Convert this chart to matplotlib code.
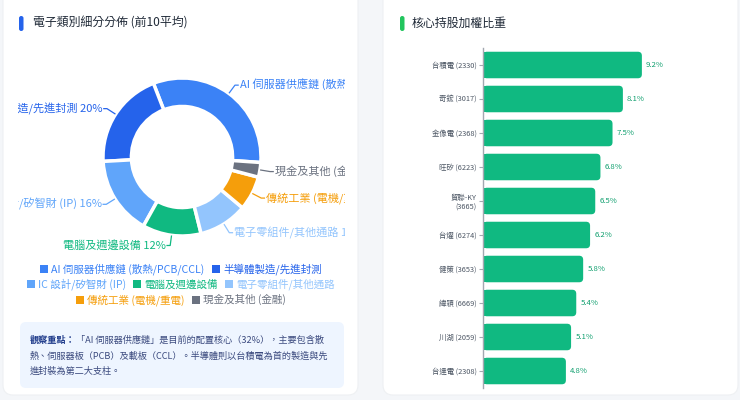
import matplotlib
matplotlib.use('Agg')
from matplotlib import pyplot as plt
from matplotlib.patches import FancyBboxPatch, Rectangle, Patch
import numpy as np

plt.rcParams['font.family'] = ['Noto Sans CJK TC', 'DejaVu Sans']

# --- data ---
sectors = ["AI 伺服器供應鏈 (散熱/PCB/CCL)", "半導體製造/先進封測", "IC 設計/矽智財 (IP)",
           "電腦及週邊設備", "電子零組件/其他通路", "傳統工業 (電機/重電)", "現金及其他 (金融)"]
sector_pct = [32, 20, 16, 12, 10, 7, 3]
sector_colors = ["#3b82f6", "#2563eb", "#60a5fa", "#10b981", "#93c5fd", "#f59e0b", "#6b7280"]

stocks = ["台積電 (2330)", "奇鋐 (3017)", "金像電 (2368)", "旺矽 (6223)", "貿聯-KY\n(3665)",
          "台燿 (6274)", "健策 (3653)", "緯穎 (6669)", "川湖 (2059)", "台達電 (2308)"]
stock_weights = [9.2, 8.1, 7.5, 6.8, 6.5, 6.2, 5.8, 5.4, 5.1, 4.8]

note_bold = "觀察重點："
note_lines = ["「AI 伺服器供應鏈」是目前的配置核心（32%），主要包含散",
              "熱、伺服器板（PCB）及載板（CCL）。半導體則以台積電為首的製造與先",
              "進封裝為第二大支柱。"]

W, H = 740, 400


def fig_box(x, y, w, h):
    # pixel box (top-left origin) -> figure fraction
    return [x / W, 1 - (y + h) / H, w / W, h / H]


def draw_chart():
    fig = plt.figure(figsize=(7.4, 4.0), dpi=100, facecolor="#f4f6f9")

    # background layer in pixel units
    bg = fig.add_axes([0, 0, 1, 1])
    bg.set_xlim(0, W)
    bg.set_ylim(H, 0)
    bg.axis("off")
    for x0, x1 in [(3, 358), (383, 738)]:
        bg.add_patch(FancyBboxPatch((x0, -20), x1 - x0, 415, boxstyle="round,pad=0,rounding_size=10",
                                    facecolor="white", edgecolor="#eef0f3", linewidth=0.8))
    bg.add_patch(FancyBboxPatch((19, 16), 4.5, 15, boxstyle="round,pad=0,rounding_size=2.2",
                                facecolor="#2563eb", edgecolor="none"))
    bg.add_patch(FancyBboxPatch((400, 16), 4.5, 15, boxstyle="round,pad=0,rounding_size=2.2",
                                facecolor="#22c55e", edgecolor="none"))
    bg.text(33, 23.5, "電子類別細分分佈 (前10平均)", fontsize=8.6, color="#1f2937",
            va="center", ha="left", weight="medium")
    bg.text(412, 23.5, "核心持股加權比重", fontsize=8.6, color="#1f2937",
            va="center", ha="left", weight="medium")

    # note box
    bg.add_patch(FancyBboxPatch((20, 322), 324, 66, boxstyle="round,pad=0,rounding_size=6",
                                facecolor="#eef5ff", edgecolor="none"))
    t = bg.text(30, 340, note_bold, fontsize=6.6, color="#1e3a8a", weight="bold", va="center")
    renderer = fig.canvas.get_renderer()
    bw = t.get_window_extent(renderer).width
    bg.text(30 + bw, 340, note_lines[0], fontsize=6.6, color="#3b4a7e", va="center")
    bg.text(30, 356, note_lines[1], fontsize=6.6, color="#3b4a7e", va="center")
    bg.text(30, 371.5, note_lines[2], fontsize=6.6, color="#3b4a7e", va="center")

    # donut
    R = 79
    half = 125
    ax = fig.add_axes(fig_box(182 - half, 157 - half, 2 * half, 2 * half))
    ax.set_facecolor("none")
    wedges, _ = ax.pie(sector_pct, colors=sector_colors, startangle=-4, counterclock=True,
                       radius=1, wedgeprops=dict(width=0.36, edgecolor="white", linewidth=2.5))
    lim = half / R
    ax.set_xlim(-lim, lim)
    ax.set_ylim(-lim, lim)
    ax.set_aspect("equal")
    ax.axis("off")

    clip = Rectangle((18, 0), 327, H, transform=bg.transData)
    for w, name, pct, col in zip(wedges, sectors, sector_pct, sector_colors):
        ang = np.deg2rad((w.theta1 + w.theta2) / 2)
        c, s = np.cos(ang), np.sin(ang)
        p0 = (1.01 * c, 1.01 * s)
        p1 = (1.13 * c, 1.13 * s)
        side = 1 if c >= 0 else -1
        p2 = (p1[0] + side * 0.04, p1[1])
        ax.plot([p0[0], p1[0], p2[0]], [p0[1], p1[1], p2[1]], color=col, lw=0.9,
                solid_joinstyle="round", clip_on=False)
        txt = ax.text(p2[0] + side * 0.02, p2[1], f"{name} {pct}%", color=col, fontsize=8,
                      ha="left" if side > 0 else "right", va="center", clip_on=True)
        txt.set_clip_path(clip)

    # legends (3 centred rows)
    rows = [[0, 1], [2, 3, 4], [5, 6]]
    row_y = [269, 284.5, 300]
    for idx, y in zip(rows, row_y):
        handles = [Patch(facecolor=sector_colors[i], edgecolor="none") for i in idx]
        leg = fig.legend(handles, [sectors[i] for i in idx], loc="center",
                         bbox_to_anchor=(181 / W, 1 - y / H), ncol=len(idx), frameon=False,
                         fontsize=7.6, handlelength=0.75, handleheight=0.75, handletextpad=0.3,
                         columnspacing=0.7, borderpad=0, borderaxespad=0)
        for text, i in zip(leg.get_texts(), idx):
            text.set_color(sector_colors[i])

    # horizontal bars with rounded right ends
    ax2 = fig.add_axes(fig_box(483, 48, 172.7, 340))
    ax2.set_facecolor("none")
    pos = np.arange(len(stocks))
    bars = ax2.barh(pos, stock_weights, height=0.78, color="#10b981")
    ax2.set_ylim(len(stocks) - 0.5, -0.5)
    ax2.set_xlim(0, 10)
    px_x = 10 / 172.7
    px_y = 10 / 340
    for b in bars:
        x, y, bw_, bh = b.get_x(), b.get_y(), b.get_width(), b.get_height()
        ax2.add_patch(FancyBboxPatch((x, y), bw_, bh,
                                     boxstyle=f"round,pad=0,rounding_size={4 * px_x}",
                                     mutation_aspect=px_y / px_x,
                                     facecolor="#10b981", edgecolor="none"))
        b.set_width(bw_ / 2)
    ax2.set_yticks(pos, stocks)
    ax2.set_xticks([])
    for sp in ["top", "right", "bottom"]:
        ax2.spines[sp].set_visible(False)
    ax2.spines["left"].set_color("#a3a8b0")
    ax2.spines["left"].set_linewidth(1)
    ax2.spines["left"].set_zorder(5)
    ax2.tick_params(axis="y", length=3, width=0.8, color="#a3a8b0", labelsize=5.3,
                    labelcolor="#4b5563", pad=1.5)
    for p, v in zip(pos, stock_weights):
        ax2.annotate(f"{v}%", (v, p), xytext=(3, 0), textcoords="offset points",
                     va="center", ha="left", color="#0f9f6e", fontsize=5.6)

    fig.savefig("out.png", dpi=100, facecolor=fig.get_facecolor())


if __name__ == "__main__":
    draw_chart()
